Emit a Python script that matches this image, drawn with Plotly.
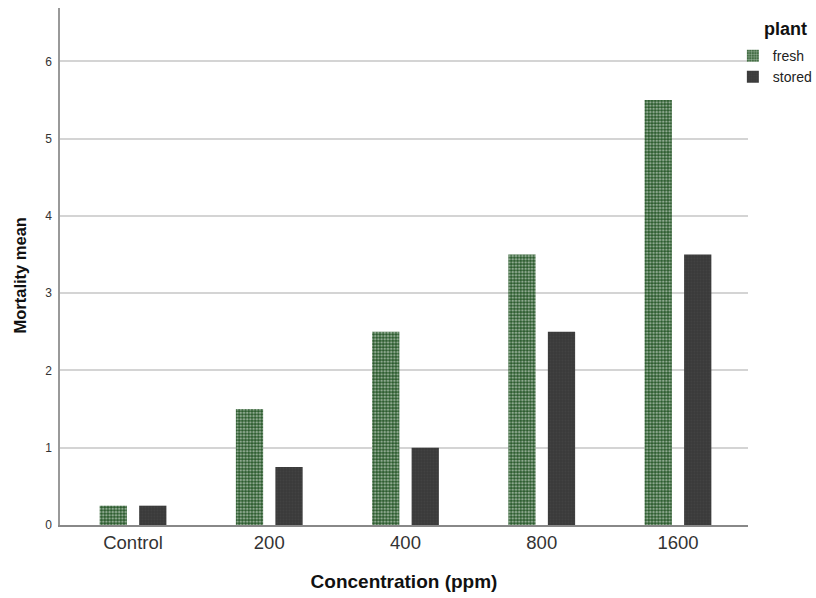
import plotly.graph_objects as go

categories = ["Control", "200", "400", "800", "1600"]
fresh = [0.25, 1.5, 2.5, 3.5, 5.5]
stored = [0.25, 0.75, 1.0, 2.5, 3.5]
y_ticks = [0, 1, 2, 3, 4, 5, 6]

fig = go.Figure()
fig.add_trace(go.Bar(
    x=categories, y=fresh, name="fresh",
    marker=dict(color="#2a5a2c", line=dict(width=0),
                pattern=dict(shape=".", fgcolor="#f4f8f4", bgcolor="#2a5a2c", size=3.2, solidity=0.5)),
))
fig.add_trace(go.Bar(
    x=categories, y=stored, name="stored",
    marker=dict(color="#3c3c3c", line=dict(width=0),
                pattern=dict(shape=".", fgcolor="#4a4a4a", bgcolor="#3a3a3a", size=3, solidity=0.3)),
))

fig.update_layout(
    width=816, height=598,
    margin=dict(l=60, r=68, t=8, b=73, autoexpand=False),
    paper_bgcolor="white", plot_bgcolor="white",
    font=dict(family="Liberation Sans, Arial, sans-serif", color="#222"),
    barmode="group", bargap=0.42, bargroupgap=0.31,
    legend=dict(
        x=0.978, y=0.938, xanchor="left", yanchor="top",
        font=dict(size=14, color="#222"),
        itemwidth=30, tracegroupgap=0,
        bgcolor="rgba(0,0,0,0)",
    ),
    annotations=[
        dict(text="<b>plant</b>", xref="paper", yref="paper", x=1.055, y=0.959,
             xanchor="center", yanchor="middle", showarrow=False,
             font=dict(size=18, color="#111")),
        dict(text="<b>Mortality mean</b>", xref="paper", yref="paper", x=0, y=0.4826,
             xshift=-40, xanchor="center", yanchor="middle", textangle=-90, showarrow=False,
             font=dict(size=16.5, color="#111")),
    ],
    xaxis=dict(
        title=dict(text="<b>Concentration (ppm)</b>", font=dict(size=19, color="#111"), standoff=23),
        tickfont=dict(size=18.5, color="#333"),
        range=[-0.536, 4.514],
        showline=True, linecolor="#888", linewidth=1.5,
        ticks="", showgrid=False, automargin=False,
    ),
    yaxis=dict(
        range=[0, 6.69], tickvals=y_ticks,
        tickfont=dict(size=12, color="#333"),
        ticklabelstandoff=4,
        showline=True, linecolor="#999", linewidth=1.5,
        showgrid=True, gridcolor="#d4d4d4", gridwidth=1.5,
        zeroline=False, ticks="", automargin=False,
    ),
)

# remove the default page margin so the figure fills the window exactly
fig.write_html(
    "out.html",
    config={"displayModeBar": False},
    post_script="document.body.style.margin='0';document.documentElement.style.overflow='hidden';",
)
